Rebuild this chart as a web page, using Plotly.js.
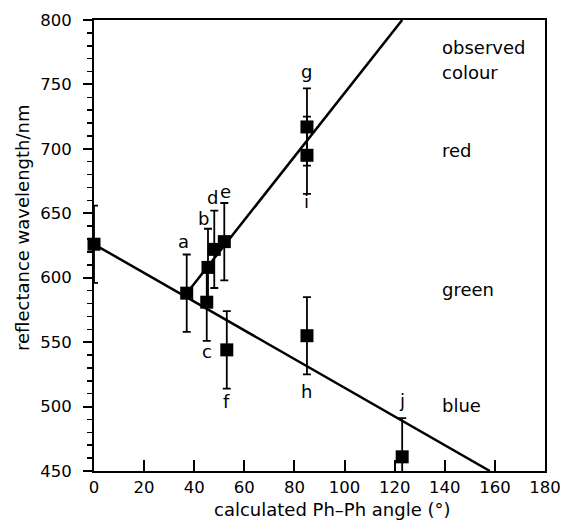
<!DOCTYPE html>
<html>
<head>
<meta charset="utf-8">
<script src="https://cdn.plot.ly/plotly-3.0.1.min.js"></script>
<style>html,body{margin:0;padding:0;background:#fff;}#chart{width:564px;height:521px;}</style>
</head>
<body>
<div id="chart"></div>
<script>
// Measured points (calculated Ph–Ph angle in degrees, reflectance wavelength in nm)
const pointLabels = ['', 'a', 'b', 'c', 'd', 'e', 'f', 'g', 'h', 'i', 'j'];
const angle      = [0, 37, 45.5, 45, 48, 52, 53, 85, 85, 85, 123];
const wavelength = [626, 588, 608, 581, 622, 628, 544, 717, 555, 695, 461];
const wlError    = [30, 30, 30, 30, 30, 30, 30, 30, 30, 30, 30];

// Label placement for each point letter (data coordinates)
const labelAngle = [null, 35.6, 43.6, 45, 47.2, 52.3, 53, 85, 85, 85, 123];
const labelWave  = [null, 628, 646, 543, 662, 667, 504, 760, 512, 659, 505];

// Fitted lines
const blueLineX = [0, 158];
const blueLineY = [626, 450];
const redLineX  = [37, 123];
const redLineY  = [588, 800];

// Observed colour column
const colourText = ['observed', 'colour', 'red', 'green', 'blue'];
const colourWave = [779, 759, 699, 591, 501];
const colourAngle = 138;

// Axis ticks
const xTicks = [0, 20, 40, 60, 80, 100, 120, 140, 160, 180];
const yTicks = [450, 500, 550, 600, 650, 700, 750, 800];

const FONT = 'DejaVu Sans, sans-serif';

const traces = [
  {x: blueLineX, y: blueLineY, mode: 'lines', line: {color: '#000', width: 2.5}, hoverinfo: 'skip', cliponaxis: false},
  {x: redLineX, y: redLineY, mode: 'lines', line: {color: '#000', width: 2.5}, hoverinfo: 'skip', cliponaxis: false},
  {
    x: angle, y: wavelength, mode: 'markers', cliponaxis: false,
    marker: {symbol: 'square', size: 13, color: '#000'},
    error_y: {type: 'data', array: wlError, visible: true, color: '#000', thickness: 1.8, width: 4}
  }
];

const annotations = [];
for (let k = 0; k < pointLabels.length; k++) {
  if (!pointLabels[k]) continue;
  annotations.push({x: labelAngle[k], y: labelWave[k], xref: 'x', yref: 'y', text: pointLabels[k],
    showarrow: false, xanchor: 'center', yanchor: 'middle', font: {family: FONT, size: 18, color: '#000'}});
}
for (let k = 0; k < colourText.length; k++) {
  annotations.push({x: colourAngle, y: colourWave[k], xref: 'x', yref: 'y', text: colourText[k],
    showarrow: false, xanchor: 'left', yanchor: 'middle', font: {family: FONT, size: 18, color: '#000'}});
}

const L = 94, R = 19, T = 20, B = 50, W = 564, H = 521;
const pw = W - L - R, ph = H - T - B;
// axis titles, placed in paper coordinates
annotations.push({x: (332 - L) / pw, y: (H - B - 509) / ph, xref: 'paper', yref: 'paper',
  text: 'calculated Ph–Ph angle (°)', showarrow: false,
  font: {family: FONT, size: 18, color: '#000'}, xanchor: 'center', yanchor: 'middle'});
annotations.push({x: (22 - L) / pw, y: (H - B - 228) / ph, xref: 'paper', yref: 'paper',
  text: 'reflectance wavelength/nm', showarrow: false, textangle: -90,
  font: {family: FONT, size: 18, color: '#000'}, xanchor: 'center', yanchor: 'middle'});

const layout = {
  width: W, height: H,
  margin: {l: L, r: R, t: T, b: B, pad: 0},
  paper_bgcolor: '#fff', plot_bgcolor: '#fff',
  showlegend: false,
  font: {family: FONT, color: '#000', size: 16.5},
  xaxis: {
    range: [0, 180], tickvals: xTicks, ticktext: xTicks.map(String),
    ticks: 'inside', ticklen: 11, tickwidth: 2, tickcolor: '#000',
    showline: true, linewidth: 2, linecolor: '#000', mirror: true,
    showgrid: false, zeroline: false,
    tickfont: {family: FONT, size: 16.5, color: '#000'}
  },
  yaxis: {
    range: [450, 800], tickvals: yTicks, ticktext: yTicks.map(String),
    ticks: 'outside', ticklen: 9, tickwidth: 2, tickcolor: '#000',
    ticklabelstandoff: 8,
    minor: {dtick: 10, tick0: 450, ticks: 'outside', ticklen: 5, tickwidth: 1.5, tickcolor: '#000', showgrid: false},
    showline: true, linewidth: 2, linecolor: '#000', mirror: true,
    showgrid: false, zeroline: false,
    tickfont: {family: FONT, size: 16.5, color: '#000'}
  },
  annotations: annotations
};

Plotly.newPlot('chart', traces, layout, {staticPlot: true, displayModeBar: false});
</script>
</body>
</html>
